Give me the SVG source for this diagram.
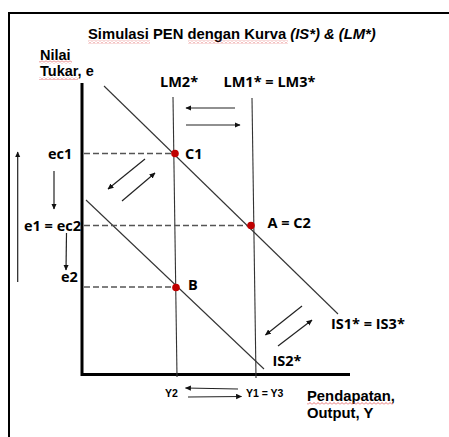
<svg xmlns="http://www.w3.org/2000/svg" width="449" height="437" viewBox="0 0 449 437">
<defs>
<marker id="ah" viewBox="0 0 10 10" refX="9" refY="5" markerWidth="6" markerHeight="6" markerUnits="userSpaceOnUse" orient="auto">
<path d="M0,0.5 L10,5 L0,9.5 Z" fill="#111"/>
</marker>
<pattern id="wave" width="4" height="3" patternUnits="userSpaceOnUse">
<path d="M0,2.5 L2,0.5 L4,2.5" fill="none" stroke="#e05050" stroke-width="0.8"/>
</pattern>
</defs>
<style>
.frame{fill:none;stroke:#000;stroke-width:2}
.axis{fill:none;stroke:#000;stroke-width:3}
.curve{stroke:#333;stroke-width:1.1;fill:none}
.dash{stroke:#555;stroke-width:1.3;stroke-dasharray:6 3;fill:none}
.arr{stroke:#222;stroke-width:1.2;fill:none;marker-end:url(#ah)}
.dot{fill:#c00000}
.t{font-family:"Liberation Sans",Arial,sans-serif;font-weight:bold;fill:#000}
.c{font-family:"Open Sans","Liberation Sans",sans-serif;font-weight:bold;font-size:14.5px;fill:#000}
.wv{fill:url(#wave)}
</style>
<rect width="449" height="437" fill="#fff"/>
<path class="frame" d="M9,437 V13 H449"/>
<g id="axes">
<path class="axis" d="M82,83 V374.5 H350"/>
</g>
<g id="title">
<text class="t" x="88" y="39" font-size="14.8">Simulasi PEN dengan Kurva <tspan font-style="italic">(IS*) &amp; (LM*)</tspan></text>
<rect class="wv" x="88" y="40.5" width="62" height="3"/>
<rect class="wv" x="188" y="40.5" width="100" height="3"/>
</g>
<g id="y-label">
<text class="t" x="40" y="59.5" font-size="14.5">Nilai</text>
<text class="t" x="40" y="75.5" font-size="14.5">Tukar, e</text>
<rect class="wv" x="39" y="60.5" width="33" height="3"/>
<rect class="wv" x="39" y="77" width="39" height="3"/>
</g>
<g id="x-label">
<text class="t" x="307" y="400.5" font-size="14.8">Pendapatan,</text>
<text class="t" x="307" y="418" font-size="14.8">Output, Y</text>
<rect class="wv" x="307" y="402" width="86" height="3"/>
</g>
<g id="connectors">
<line class="curve" x1="104" y1="86" x2="338" y2="314"/>
<line class="curve" x1="86" y1="200" x2="264" y2="369"/>
<line class="curve" x1="173" y1="97" x2="177" y2="377"/>
<line class="curve" x1="252" y1="98" x2="256" y2="378"/>
<line class="dash" x1="84" y1="153.5" x2="172" y2="153.5"/>
<line class="dash" x1="84" y1="225.5" x2="248" y2="225.5"/>
<line class="dash" x1="84" y1="287" x2="173" y2="287"/>
<line class="arr" x1="17.7" y1="282" x2="17.7" y2="152"/>
<line class="arr" x1="54" y1="171" x2="54" y2="209"/>
<line class="arr" x1="66.5" y1="233" x2="66" y2="270"/>
<line class="arr" x1="145" y1="159" x2="108" y2="189"/>
<line class="arr" x1="122" y1="201" x2="155" y2="173"/>
<line class="arr" x1="235" y1="108" x2="186" y2="108"/>
<line class="arr" x1="186" y1="125" x2="240" y2="125"/>
<line class="arr" x1="302" y1="306" x2="265.5" y2="335"/>
<line class="arr" x1="278" y1="346" x2="312" y2="320"/>
<line class="arr" x1="238" y1="389" x2="185.5" y2="388"/>
<line class="arr" x1="188" y1="397" x2="241.5" y2="396.5"/>
</g>
<g id="LM2">
<text class="c" x="160" y="87">LM2*</text>
</g>
<g id="LM1">
<text class="c" x="223.5" y="87">LM1* = LM3*</text>
</g>
<g id="IS1">
<text class="c" x="331" y="329">IS1* = IS3*</text>
</g>
<g id="IS2">
<text class="c" x="272.5" y="365.5">IS2*</text>
</g>
<g id="C1">
<circle class="dot" cx="175" cy="153.5" r="3.8"/>
<text class="c" x="185" y="159">C1</text>
</g>
<g id="A">
<circle class="dot" cx="251" cy="225.5" r="3.8"/>
<text class="c" x="267.5" y="228">A = C2</text>
</g>
<g id="B">
<circle class="dot" cx="176" cy="287.5" r="3.8"/>
<text class="c" x="188" y="290">B</text>
</g>
<g id="e-labels">
<text class="c" x="48" y="159">ec1</text>
<text class="c" x="24" y="230.5">e1 = ec2</text>
<text class="c" x="61" y="282">e2</text>
</g>
<g id="y-values">
<text class="t" x="165" y="396.5" font-size="10.5">Y2</text>
<text class="t" x="246" y="396.5" font-size="10.5">Y1 = Y3</text>
</g>
</svg>
